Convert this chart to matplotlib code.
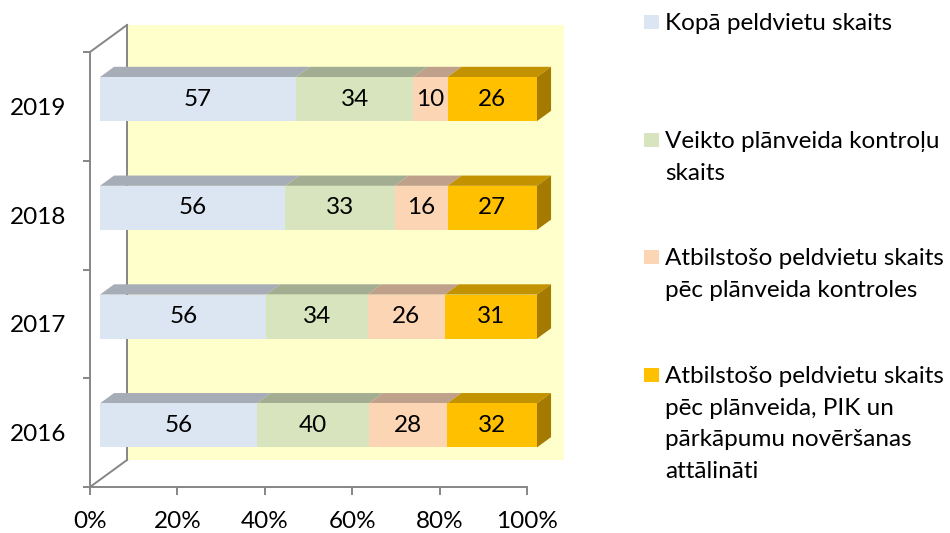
import matplotlib.pyplot as plt
from matplotlib.patches import Polygon, Rectangle
import numpy as np

plt.rcParams['font.family'] = ['Lato', 'DejaVu Sans']

years = ['2016', '2017', '2018', '2019']
kopa = [56, 56, 56, 57]
veikto = [40, 34, 33, 34]
atbilst = [28, 26, 16, 10]
atbilst_pik = [32, 31, 27, 26]
series = [kopa, veikto, atbilst, atbilst_pik]
names = ['Kopā peldvietu skaits',
         'Veikto plānveida kontroļu\nskaits',
         'Atbilstošo peldvietu skaits\npēc plānveida kontroles',
         'Atbilstošo peldvietu skaits\npēc plānveida, PIK un\npārkāpumu novēršanas\nattālināti']

front_col = ['#DCE6F2', '#D7E4BD', '#FCD5B5', '#FFC000']
top_col = ['#A7ADB6', '#A2AD91', '#BFA08A', '#C29200']
side_col = '#A47A00'
gray = '#868686'
fs = 17.5

fig = plt.figure(figsize=(9.5, 5.33), dpi=100)
ax = fig.add_axes([90/950, 46/533, 437/950, 435/533])
ax.set_xlim(0, 100)
ax.set_ylim(-0.5, 3.5)

# 3d depth (data units)
DX = 37/437*100
DY = 27/108.75
f1, f2 = 0.27, 0.65
h = 0.405

# back wall
ax.add_patch(Polygon([(DX, -0.5+DY), (100+DX, -0.5+DY), (100+DX, 3.5+DY), (DX, 3.5+DY)],
                     closed=True, fc='#FFFFCC', ec='none', clip_on=False, zorder=0))
# side wall edges
kw = dict(color=gray, lw=1.4, clip_on=False, zorder=1, solid_capstyle='projecting')
ax.plot([DX, DX], [-0.5+DY, 3.5+DY], **kw)
ax.plot([0, DX], [3.5, 3.5+DY], **kw)
ax.plot([0, DX], [-0.5, -0.5+DY], **kw)

# bars
totals = np.sum(series, axis=0)
left = np.zeros(len(years))
for j, vals in enumerate(series):
    pct = np.array(vals) / totals * 100
    for i in range(len(years)):
        x0 = left[i] + f1*DX
        yc = i + f1*DY
        ax.barh(yc, pct[i], left=x0, height=h, color=front_col[j],
                clip_on=False, zorder=3)
        ddx, ddy = (f2-f1)*DX, (f2-f1)*DY
        yt = yc + h/2
        ax.add_patch(Polygon([(x0, yt), (x0+pct[i], yt), (x0+pct[i]+ddx, yt+ddy), (x0+ddx, yt+ddy)],
                             closed=True, fc=top_col[j], ec='none', clip_on=False, zorder=2))
        if j == len(series)-1:
            x1 = x0 + pct[i]
            yb = yc - h/2
            ax.add_patch(Polygon([(x1, yb), (x1, yt), (x1+ddx, yt+ddy), (x1+ddx, yb+ddy)],
                                 closed=True, fc=side_col, ec='none', clip_on=False, zorder=2))
        ax.text(x0 + pct[i]/2, yc, str(vals[i]), ha='center', va='center',
                fontsize=fs, color='black', zorder=4)
    left += pct

# axes styling
for s in ['top', 'right']:
    ax.spines[s].set_visible(False)
for s in ['left', 'bottom']:
    ax.spines[s].set_color(gray)
    ax.spines[s].set_linewidth(1.4)
ax.set_facecolor('none')
ax.set_xticks(np.arange(0, 101, 20))
ax.set_xticklabels([f'{v}%' for v in range(0, 101, 20)])
ax.set_yticks(range(len(years)))
ax.set_yticklabels(years)
ax.set_yticks(np.arange(-0.5, 3.6, 1), minor=True)
ax.tick_params(axis='x', length=6, width=1.4, color=gray, labelsize=fs, pad=11)
ax.tick_params(axis='y', which='major', length=0, labelsize=fs, pad=17)
ax.tick_params(axis='y', which='minor', length=5, width=1.4, color=gray)

# legend
ys = [22, 140, 257, 375]
for j, name in enumerate(names):
    fig.add_artist(Rectangle((644/950, 1-(ys[j]+7)/533), 15/950, 14/533,
                             transform=fig.transFigure, fc=front_col[j], ec='none'))
    fig.text(665/950, 1-(ys[j]-9)/533, name, ha='left', va='top',
             fontsize=fs, linespacing=1.62)

fig.savefig('out.png', dpi=100)
